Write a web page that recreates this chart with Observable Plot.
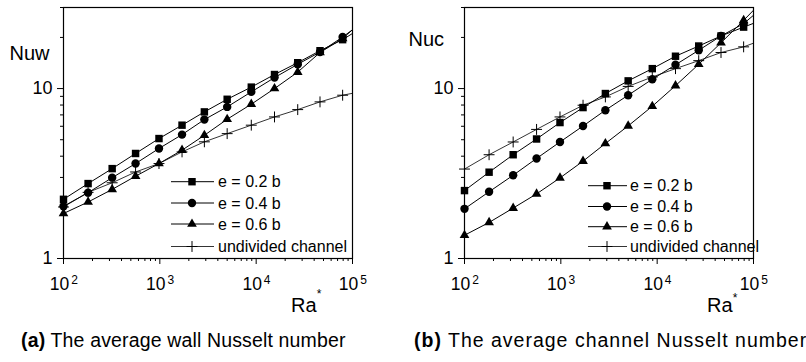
<!DOCTYPE html>
<html><head><meta charset="utf-8">
<script src="https://cdn.jsdelivr.net/npm/d3@7"></script>
<script src="https://cdn.jsdelivr.net/npm/@observablehq/plot@0.6"></script>
<style>
html,body{margin:0;padding:0;background:#fff;overflow:hidden;}
body{font-family:"Liberation Sans",Arial,sans-serif;color:#000;width:806px;height:362px;position:relative;}
#row{display:flex;position:absolute;left:0;top:0;}
.cap{position:absolute;top:329px;font-size:19.5px;white-space:nowrap;}
</style></head><body>
<div id="row"></div>
<div class="cap" id="capA" style="left:21px;letter-spacing:0.15px"><b>(a)</b> The average wall Nusselt number</div>
<div class="cap" id="capB" style="left:414px;letter-spacing:1.0px"><b>(b)</b> The average channel Nusselt number</div>
<script>
// ---- data ----
const ra = [100, 180, 320, 560, 980, 1700, 2900, 5000, 8900, 15500, 27000, 46000, 79000];
const raEdge = 100000; // where the curves leave the frame
const seriesNames = ["e = 0.2 b", "e = 0.4 b", "e = 0.6 b", "undivided channel"];

// (a) average wall Nusselt number
const nuw02 = [2.23, 2.76, 3.38, 4.15, 5.08, 6.09, 7.29, 8.65, 10.2, 12.1, 14.2, 16.7, 19.4];
const nuw04 = [2.03, 2.44, 2.99, 3.62, 4.44, 5.36, 6.57, 7.80, 9.56, 11.6, 13.9, 16.4, 20.1];
const nuw06 = [1.84, 2.15, 2.55, 3.05, 3.62, 4.34, 5.31, 6.60, 8.09, 10.0, 12.5, 16.3, 19.7];
const nuwUndiv = [2.01, 2.45, 2.79, 3.23, 3.62, 4.24, 4.86, 5.43, 6.09, 6.81, 7.52, 8.35, 9.14];
const nuwEdge = [21.1, 22.2, 22.2, 9.38];

// (b) average channel Nusselt number
const nuc02 = [2.51, 3.22, 4.08, 5.05, 6.31, 7.73, 9.35, 11.1, 13.1, 15.5, 17.8, 20.4, 23.0];
const nuc04 = [1.96, 2.47, 3.09, 3.88, 4.85, 6.02, 7.46, 9.14, 11.35, 13.8, 16.8, 20.4, 24.1];
const nuc06 = [1.37, 1.63, 1.98, 2.40, 2.98, 3.74, 4.75, 6.03, 7.87, 10.4, 13.9, 18.6, 25.2];
const nucUndiv = [3.36, 4.08, 4.85, 5.75, 6.81, 7.98, 8.93, 10.3, 11.7, 13.1, 14.6, 16.3, 17.6];
const nucEdge = [24.2, 27.0, 28.9, 18.5];

const xMajor = [100, 1000, 10000, 100000];
const xMajorExp = ["2", "3", "4", "5"];
const yMajor = [1, 10];
const yDomain = [1, 30];

const xMinor = [];
for (const d of [100, 1000, 10000]) for (let k = 2; k <= 9; k++) xMinor.push(k * d);
const yMinor = [2, 3, 4, 5, 6, 7, 8, 9, 20, 30];

const FONT = "'Liberation Sans', Arial, sans-serif";

function rows(seriesVals, edgeVals, withEdge) {
  const out = [];
  seriesVals.forEach((vals, s) => {
    vals.forEach((v, i) => out.push({series: seriesNames[s], ra: ra[i], nu: v}));
    if (withEdge) out.push({series: seriesNames[s], ra: raEdge, nu: edgeVals[s]});
  });
  return out;
}

const symR = [4.2, 4.2, 3.6, 3.6];
const W = 403, H = 318, MT = 7, MB = 60;

function panel(cfg) {
  const lineRows = rows(cfg.series, cfg.edge, true);
  const dotRows = rows(cfg.series, cfg.edge, false);
  const filled = [["e = 0.2 b", "square", symR[0]], ["e = 0.4 b", "circle", symR[1]], ["e = 0.6 b", "triangle", symR[2]]];
  const svg = Plot.plot({
    width: W, height: H,
    marginLeft: cfg.ml, marginRight: cfg.mr, marginTop: MT, marginBottom: MB,
    style: {fontFamily: FONT, color: "#000", background: "#fff", overflow: "visible"},
    x: {type: "log", domain: [100, 100000], label: null},
    y: {type: "log", domain: yDomain, label: null},
    marks: [
      Plot.axisX({ticks: xMinor, tickSize: 3, tickFormat: () => "", strokeWidth: 1}),
      Plot.axisX({ticks: xMajor, tickSize: 6, tickFormat: () => "", strokeWidth: 1}),
      Plot.text(xMajor, {x: d => d, frameAnchor: "bottom", text: () => "10", dx: -4, dy: 31, fontSize: 17.5, fill: "#000"}),
      Plot.text(xMajor, {x: d => d, frameAnchor: "bottom", text: (d, i) => xMajorExp[i], dx: 11, dy: 25, fontSize: 12, fill: "#000"}),
      Plot.axisY({ticks: yMinor, tickSize: 3, tickFormat: () => "", strokeWidth: 1}),
      Plot.axisY({ticks: yMajor, tickSize: 6, tickPadding: 5, tickFormat: d => String(d), fontSize: 18, strokeWidth: 1}),
      Plot.line(lineRows.filter(d => d.series !== "undivided channel"), {x: "ra", y: "nu", z: "series", stroke: "#000", strokeWidth: 1, clip: true}),
      Plot.line(lineRows.filter(d => d.series === "undivided channel"), {x: "ra", y: "nu", stroke: "#000", strokeWidth: 0.8, clip: true}),
      ...filled.map(([name, sym, r]) => Plot.dot(dotRows.filter(d => d.series === name), {x: "ra", y: "nu", symbol: sym, r, fill: "#000", stroke: null})),
      Plot.dot(dotRows.filter(d => d.series === "undivided channel"), {x: "ra", y: "nu", symbol: "plus", r: symR[3], stroke: "#000", strokeWidth: 1, fill: "none"}),
      Plot.frame({stroke: "#000", strokeWidth: 1.2}),
      Plot.text([cfg.yLabel], {frameAnchor: "top-left", text: d => d, dx: cfg.yLabelDx, dy: cfg.yLabelDy, lineAnchor: "bottom", textAnchor: "start", fontSize: 20, fill: "#000"})
    ]
  });
  const sel = d3.select(svg);
  // x-axis title Ra* (positioned relative to the frame's bottom-right corner)
  const fr = W - cfg.mr, fb = H - MB;
  const tg = sel.append("g").attr("font-family", FONT).attr("fill", "#000").attr("text-anchor", "start");
  tg.append("text").attr("x", fr + cfg.raDx).attr("y", fb + 54).attr("font-size", 20).text("Ra");
  tg.append("text").attr("x", fr + cfg.starDx).attr("y", fb + cfg.starDy)
    .attr("font-size", 12).attr("text-anchor", "middle").text("*");
  // legend (inside plot frame)
  const g = sel.append("g")
    .attr("font-family", FONT).attr("font-size", 16).attr("text-anchor", "start");
  const syms = [d3.symbolSquare, d3.symbolCircle, d3.symbolTriangle, d3.symbolPlus];
  seriesNames.forEach((name, i) => {
    const y = cfg.legY[i];
    g.append("line").attr("x1", cfg.legX1).attr("x2", cfg.legX2).attr("y1", y).attr("y2", y)
      .attr("stroke", "#000").attr("stroke-width", i === 3 ? 0.8 : 1);
    const p = g.append("path").attr("d", d3.symbol(syms[i], Math.PI * symR[i] * symR[i])())
      .attr("transform", `translate(${cfg.legM},${y})`);
    if (i === 3) p.attr("fill", "none").attr("stroke", "#000"); else p.attr("fill", "#000");
    g.append("text").attr("x", cfg.legT).attr("y", y).attr("dy", "0.35em")
      .attr("text-anchor", "start").attr("fill", "#000").text(name);
  });
  return svg;
}

const row = document.getElementById("row");
row.append(panel({
  series: [nuw02, nuw04, nuw06, nuwUndiv], edge: nuwEdge,
  ml: 63, mr: 51, yLabel: "Nuw", yLabelDx: -54, yLabelDy: 52,
  raDx: -61, starDx: -33, starDy: 40,
  legX1: 171, legX2: 214, legM: 192, legT: 218, legY: [181.7, 203, 224, 246.5]
}));
row.append(panel({
  series: [nuc02, nuc04, nuc06, nucUndiv], edge: nucEdge,
  ml: 61, mr: 53, yLabel: "Nuc", yLabelDx: -56, yLabelDy: 38,
  raDx: -46, starDx: -18, starDy: 44,
  legX1: 185, legX2: 224, legM: 204, legT: 227, legY: [185.7, 206.5, 226.7, 246.5]
}));
</script>
</body></html>
